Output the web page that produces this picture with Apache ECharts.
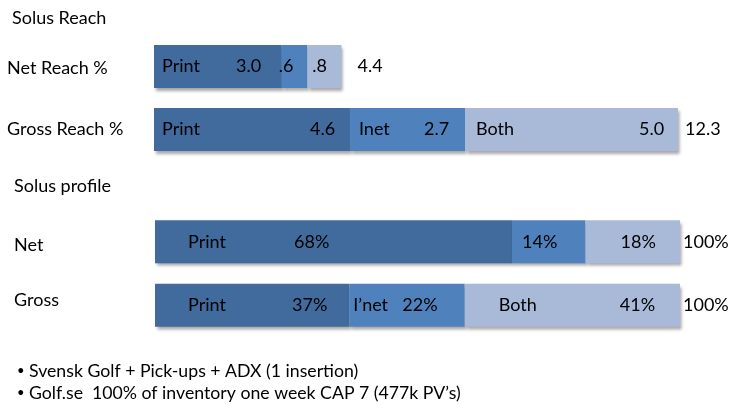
<!DOCTYPE html>
<html>
<head>
<meta charset="utf-8">
<script src="https://cdn.jsdelivr.net/npm/echarts@6/dist/echarts.min.js"></script>
<style>
  html, body { margin: 0; padding: 0; background: #fff; }
  #chart { width: 729px; height: 405px; }
</style>
</head>
<body>
<div id="chart"></div>
<script>
// Reach (absolute points)
const reachCategories = ['Net Reach %', 'Gross Reach %'];
const reachPrint = [3.0, 4.6];
const reachInet = [0.6, 2.7];
const reachBoth = [0.8, 5.0];
const reachSegmentNames = [['Print', 'Print'], ['', 'Inet'], ['', 'Both']];

// Profile (share of reach, %)
const profileCategories = ['Net', 'Gross'];
const profilePrint = [68, 37];
const profileInet = [14, 22];
const profileBoth = [18, 41];
const profileSegmentNames = [['Print', 'Print'], ['', 'I\u2019net'], ['', 'Both']];

const headings = ['Solus Reach', 'Solus profile'];
const notes = [
  'Svensk Golf + Pick-ups + ADX (1 insertion)',
  'Golf.se  100% of inventory one week CAP 7 (477k PV\u2019s)'
];

const colors = ['#416a9d', '#4f81bd', '#a9b9d8'];
const FONT = 'Lato, "Open Sans", sans-serif';
const TEXT_SIZE = 18;

// label placement inside each segment (px from the segment's left edge)
const reachNameDx = [[8, 8], [0, 9], [0, 11]];
const reachValueDx = [[82, 156], [-3, 74], [5, 174]];
const reachTotalGap = [16, 7];
const profileNameDx = [[33, 33], [0, 4], [0, 34]];
const profileValueDx = [[139, 137], [10, 53], [35, 155]];
const profileTotalGap = [3, 3];

function fmtReach(v) { return v.toFixed(1).replace(/^0/, ''); }
function fmtProfile(v) { return v + '%'; }

function buildSeries(gridIdx, segs, names, nameDx, valueDx, totalGap, fmt, totalFmt) {
  const out = [];
  const base = {
    type: 'bar', xAxisIndex: gridIdx, yAxisIndex: gridIdx,
    barWidth: 43, barGap: '-100%', animation: false, silent: true
  };
  segs.forEach((arr, s) => {
    // coloured segment carrying the segment name
    out.push(Object.assign({}, base, {
      stack: 'seg' + gridIdx,
      itemStyle: {
        color: colors[s],
        shadowColor: 'rgba(0,0,0,0.35)', shadowBlur: 3,
        shadowOffsetX: 2, shadowOffsetY: 3
      },
      data: arr.map((v, i) => ({
        value: v,
        label: {
          show: names[s][i] !== '', position: 'insideLeft', distance: 0,
          offset: [nameDx[s][i], 0],
          formatter: names[s][i], color: '#000', fontFamily: FONT, fontSize: TEXT_SIZE
        }
      }))
    }));
  });
  segs.forEach((arr, s) => {
    // transparent twin carrying the segment value
    out.push(Object.assign({}, base, {
      stack: 'val' + gridIdx,
      itemStyle: { color: 'rgba(0,0,0,0)' },
      data: arr.map((v, i) => ({
        value: v,
        label: {
          show: true, position: 'insideLeft', distance: 0,
          offset: [valueDx[s][i], 0],
          formatter: fmt(v), color: '#000', fontFamily: FONT, fontSize: TEXT_SIZE
        }
      }))
    }));
  });
  // row totals at the end of each bar
  out.push(Object.assign({}, base, {
    stack: 'val' + gridIdx,
    itemStyle: { color: 'rgba(0,0,0,0)' },
    data: segs[0].map((_, i) => {
      const total = segs.reduce((acc, arr) => acc + arr[i], 0);
      return {
        value: 0,
        label: {
          show: true, position: 'right', distance: totalGap[i],
          formatter: totalFmt(total), color: '#000', fontFamily: FONT, fontSize: TEXT_SIZE
        }
      };
    })
  }));
  return out;
}

const chart = echarts.init(document.getElementById('chart'), null, { renderer: 'canvas' });

const yAxisCommon = {
  type: 'category', inverse: true,
  axisLine: { show: false }, axisTick: { show: false }, splitLine: { show: false },
  axisLabel: { align: 'left', color: '#000', fontFamily: FONT, fontSize: TEXT_SIZE }
};
const xAxisCommon = { type: 'value', min: 0, show: false, splitLine: { show: false } };

chart.setOption({
  backgroundColor: '#fff',
  animation: false,
  grid: [
    { left: 154, width: 524, top: 35, height: 126 },
    { left: 155, width: 525, top: 210, height: 127 }
  ],
  xAxis: [
    Object.assign({}, xAxisCommon, { gridIndex: 0, max: 12.3 }),
    Object.assign({}, xAxisCommon, { gridIndex: 1, max: 100 })
  ],
  yAxis: [
    Object.assign({}, yAxisCommon, { gridIndex: 0, data: reachCategories,
      axisLabel: Object.assign({}, yAxisCommon.axisLabel, {
        margin: 147,
        formatter: (v, i) => '{r' + i + '|' + v + '}',
        rich: {
          r0: { fontFamily: FONT, fontSize: TEXT_SIZE, color: '#000', padding: [3, 0, 0, 0] },
          r1: { fontFamily: FONT, fontSize: TEXT_SIZE, color: '#000' }
        }
      }) }),
    Object.assign({}, yAxisCommon, { gridIndex: 1, data: profileCategories,
      axisLabel: Object.assign({}, yAxisCommon.axisLabel, {
        margin: 141,
        formatter: (v, i) => '{r' + i + '|' + v + '}',
        rich: {
          r0: { fontFamily: FONT, fontSize: TEXT_SIZE, color: '#000', padding: [6, 0, 0, 0] },
          r1: { fontFamily: FONT, fontSize: TEXT_SIZE, color: '#000', padding: [0, 0, 10, 0] }
        }
      }) })
  ],
  series: [].concat(
    buildSeries(0, [reachPrint, reachInet, reachBoth], reachSegmentNames,
      reachNameDx, reachValueDx, reachTotalGap, fmtReach, t => t.toFixed(1)),
    buildSeries(1, [profilePrint, profileInet, profileBoth], profileSegmentNames,
      profileNameDx, profileValueDx, profileTotalGap, fmtProfile, t => Math.round(t) + '%')
  ),
  graphic: [
    { type: 'text', left: 12, top: 9, style: { text: headings[0], fill: '#000', font: TEXT_SIZE + 'px ' + FONT } },
    { type: 'text', left: 14, top: 177, style: { text: headings[1], fill: '#000', font: TEXT_SIZE + 'px ' + FONT } },
    { type: 'text', left: 17, top: 364, style: { text: '\u2022', fill: '#000', font: '13px ' + FONT } },
    { type: 'text', left: 29, top: 362, style: { text: notes[0], fill: '#000', font: '17.7px ' + FONT } },
    { type: 'text', left: 17, top: 386, style: { text: '\u2022', fill: '#000', font: '13px ' + FONT } },
    { type: 'text', left: 29, top: 384, style: { text: notes[1], fill: '#000', font: '17.7px ' + FONT } }
  ]
});
</script>
</body>
</html>
